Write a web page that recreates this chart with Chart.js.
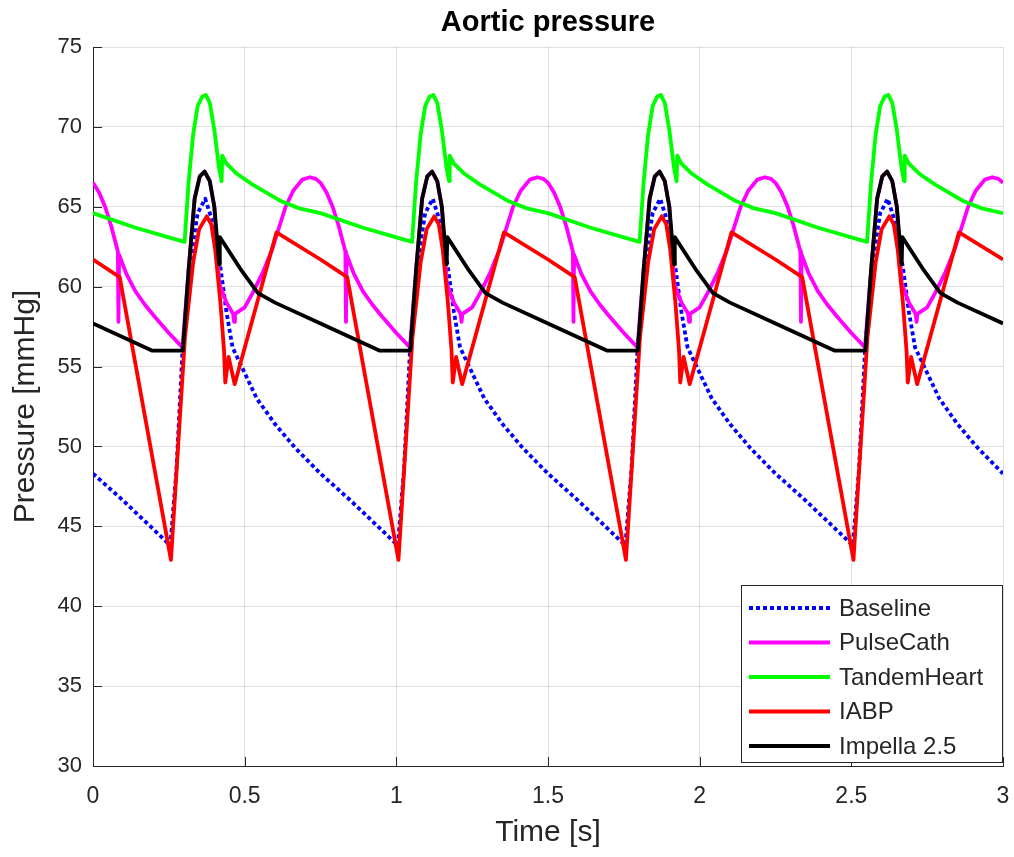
<!DOCTYPE html>
<html>
<head>
<meta charset="utf-8">
<title>Aortic pressure</title>
<script src="https://cdn.jsdelivr.net/npm/chart.js@4.4.1/dist/chart.umd.min.js"></script>
<style>
  html, body { margin: 0; padding: 0; background: #fff; }
  #wrap { width: 1014px; height: 857px; }
</style>
</head>
<body>
<div id="wrap"><canvas id="pressureChart" width="1014" height="857"></canvas></div>
<script>
'use strict';

// Series names
const seriesNames = ['Baseline', 'PulseCath', 'TandemHeart', 'IABP', 'Impella 2.5'];

// Baseline
const baselineTime = [
  0, 0.10, 0.20, 0.255, 0.275, 0.295, 0.32, 0.345, 0.37, 0.395, 0.42, 0.44, 0.46, 0.50, 0.54, 0.60, 0.667,
  0.75, 0.85, 0.95, 1.005, 1.025, 1.045, 1.07, 1.095, 1.12, 1.145, 1.17, 1.19, 1.21, 1.25, 1.29, 1.35, 1.417,
  1.5, 1.6, 1.7, 1.755, 1.775, 1.795, 1.82, 1.845, 1.87, 1.895, 1.92, 1.94, 1.96, 2.0, 2.04, 2.1, 2.167,
  2.25, 2.35, 2.45, 2.505, 2.525, 2.545, 2.57, 2.595, 2.62, 2.645, 2.67, 2.69, 2.71, 2.75, 2.79, 2.85, 2.917,
  3.0
];
const baselinePressure = [
  48.3, 46.6, 44.8, 43.8, 48.5, 56.0, 61.5, 64.6, 65.5, 64.0, 61.2, 58.4, 56.2, 54.6, 53.0, 51.4, 49.9,
  48.3, 46.6, 44.8, 43.8, 48.5, 56.0, 61.5, 64.6, 65.5, 64.0, 61.2, 58.4, 56.2, 54.6, 53.0, 51.4, 49.9,
  48.3, 46.6, 44.8, 43.8, 48.5, 56.0, 61.5, 64.6, 65.5, 64.0, 61.2, 58.4, 56.2, 54.6, 53.0, 51.4, 49.9,
  48.3, 46.6, 44.8, 43.8, 48.5, 56.0, 61.5, 64.6, 65.5, 64.0, 61.2, 58.4, 56.2, 54.6, 53.0, 51.4, 49.9,
  48.3
];

// PulseCath
const pulseCathTime = [
  0, 0.02, 0.04, 0.06, 0.082, 0.084, 0.086, 0.11, 0.14, 0.17, 0.2, 0.25, 0.295, 0.315, 0.335, 0.352, 0.368, 0.385, 0.4, 0.416, 0.44, 0.462, 0.465, 0.468, 0.5, 0.526, 0.56, 0.59, 0.61, 0.635, 0.66, 0.69, 0.715, 0.735,
  0.75, 0.77, 0.79, 0.81, 0.832, 0.834, 0.836, 0.86, 0.89, 0.92, 0.95, 1.0, 1.045, 1.065, 1.085, 1.102, 1.118, 1.135, 1.15, 1.166, 1.19, 1.212, 1.215, 1.218, 1.25, 1.276, 1.31, 1.34, 1.36, 1.385, 1.41, 1.44, 1.465, 1.485,
  1.5, 1.52, 1.54, 1.56, 1.582, 1.584, 1.586, 1.61, 1.64, 1.67, 1.7, 1.75, 1.795, 1.815, 1.835, 1.852, 1.868, 1.885, 1.9, 1.916, 1.94, 1.962, 1.965, 1.968, 2.0, 2.026, 2.06, 2.09, 2.11, 2.135, 2.16, 2.19, 2.215, 2.235,
  2.25, 2.27, 2.29, 2.31, 2.332, 2.334, 2.336, 2.36, 2.39, 2.42, 2.45, 2.5, 2.545, 2.565, 2.585, 2.602, 2.618, 2.635, 2.65, 2.666, 2.69, 2.712, 2.715, 2.718, 2.75, 2.776, 2.81, 2.84, 2.86, 2.885, 2.91, 2.94, 2.965, 2.985,
  3.0
];
const pulseCathPressure = [
  66.5, 65.9, 65.0, 63.8, 62.2, 57.8, 62.0, 60.8, 59.7, 58.9, 58.2, 57.1, 56.2, 61.0, 65.5, 66.9, 67.2, 66.6, 65.0, 60.2, 59.0, 58.3, 57.8, 58.3, 58.7, 59.6, 60.9, 62.3, 63.5, 65.0, 66.0, 66.7, 66.85, 66.75,
  66.5, 65.9, 65.0, 63.8, 62.2, 57.8, 62.0, 60.8, 59.7, 58.9, 58.2, 57.1, 56.2, 61.0, 65.5, 66.9, 67.2, 66.6, 65.0, 60.2, 59.0, 58.3, 57.8, 58.3, 58.7, 59.6, 60.9, 62.3, 63.5, 65.0, 66.0, 66.7, 66.85, 66.75,
  66.5, 65.9, 65.0, 63.8, 62.2, 57.8, 62.0, 60.8, 59.7, 58.9, 58.2, 57.1, 56.2, 61.0, 65.5, 66.9, 67.2, 66.6, 65.0, 60.2, 59.0, 58.3, 57.8, 58.3, 58.7, 59.6, 60.9, 62.3, 63.5, 65.0, 66.0, 66.7, 66.85, 66.75,
  66.5, 65.9, 65.0, 63.8, 62.2, 57.8, 62.0, 60.8, 59.7, 58.9, 58.2, 57.1, 56.2, 61.0, 65.5, 66.9, 67.2, 66.6, 65.0, 60.2, 59.0, 58.3, 57.8, 58.3, 58.7, 59.6, 60.9, 62.3, 63.5, 65.0, 66.0, 66.7, 66.85, 66.75,
  66.5
];

// TandemHeart
const tandemTime = [
  0, 0.138, 0.247, 0.302, 0.315, 0.33, 0.345, 0.36, 0.372, 0.385, 0.4, 0.415, 0.424, 0.426, 0.44, 0.472, 0.525, 0.615, 0.68,
  0.75, 0.888, 0.997, 1.052, 1.065, 1.08, 1.095, 1.11, 1.122, 1.135, 1.15, 1.165, 1.174, 1.176, 1.19, 1.222, 1.275, 1.365, 1.43,
  1.5, 1.638, 1.747, 1.802, 1.815, 1.83, 1.845, 1.86, 1.872, 1.885, 1.9, 1.915, 1.924, 1.926, 1.94, 1.972, 2.025, 2.115, 2.18,
  2.25, 2.388, 2.497, 2.552, 2.565, 2.58, 2.595, 2.61, 2.622, 2.635, 2.65, 2.665, 2.674, 2.676, 2.69, 2.722, 2.775, 2.865, 2.93,
  3.0
];
const tandemPressure = [
  64.6, 63.7, 63.1, 62.8, 66.5, 69.5, 71.3, 71.9, 72.0, 71.5, 69.8, 67.5, 66.6, 68.2, 67.7, 67.1, 66.4, 65.4, 64.9,
  64.6, 63.7, 63.1, 62.8, 66.5, 69.5, 71.3, 71.9, 72.0, 71.5, 69.8, 67.5, 66.6, 68.2, 67.7, 67.1, 66.4, 65.4, 64.9,
  64.6, 63.7, 63.1, 62.8, 66.5, 69.5, 71.3, 71.9, 72.0, 71.5, 69.8, 67.5, 66.6, 68.2, 67.7, 67.1, 66.4, 65.4, 64.9,
  64.6, 63.7, 63.1, 62.8, 66.5, 69.5, 71.3, 71.9, 72.0, 71.5, 69.8, 67.5, 66.6, 68.2, 67.7, 67.1, 66.4, 65.4, 64.9,
  64.6
];

// IABP
const iabpTime = [
  0, 0.088, 0.257, 0.303, 0.33, 0.35, 0.375, 0.39, 0.403, 0.42, 0.432, 0.436, 0.447, 0.467, 0.605,
  0.75, 0.838, 1.007, 1.053, 1.08, 1.1, 1.125, 1.14, 1.153, 1.17, 1.182, 1.186, 1.197, 1.217, 1.355,
  1.5, 1.588, 1.757, 1.803, 1.83, 1.85, 1.875, 1.89, 1.903, 1.92, 1.932, 1.936, 1.947, 1.967, 2.105,
  2.25, 2.338, 2.507, 2.553, 2.58, 2.6, 2.625, 2.64, 2.653, 2.67, 2.682, 2.686, 2.697, 2.717, 2.855,
  3.0
];
const iabpPressure = [
  61.7, 60.6, 42.9, 56.8, 61.5, 63.6, 64.4, 63.9, 62.3, 59.0, 56.0, 54.0, 55.6, 53.9, 63.4,
  61.7, 60.6, 42.9, 56.8, 61.5, 63.6, 64.4, 63.9, 62.3, 59.0, 56.0, 54.0, 55.6, 53.9, 63.4,
  61.7, 60.6, 42.9, 56.8, 61.5, 63.6, 64.4, 63.9, 62.3, 59.0, 56.0, 54.0, 55.6, 53.9, 63.4,
  61.7, 60.6, 42.9, 56.8, 61.5, 63.6, 64.4, 63.9, 62.3, 59.0, 56.0, 54.0, 55.6, 53.9, 63.4,
  61.7
];

// Impella 2.5
const impellaTime = [
  0, 0.194, 0.296, 0.315, 0.335, 0.352, 0.368, 0.385, 0.4, 0.416, 0.418, 0.49, 0.544, 0.6,
  0.75, 0.944, 1.046, 1.065, 1.085, 1.102, 1.118, 1.135, 1.15, 1.166, 1.168, 1.24, 1.294, 1.35,
  1.5, 1.694, 1.796, 1.815, 1.835, 1.852, 1.868, 1.885, 1.9, 1.916, 1.918, 1.99, 2.044, 2.1,
  2.25, 2.444, 2.546, 2.565, 2.585, 2.602, 2.618, 2.635, 2.65, 2.666, 2.668, 2.74, 2.794, 2.85,
  3.0
];
const impellaPressure = [
  57.7, 56.0, 56.0, 61.0, 65.5, 66.9, 67.2, 66.6, 65.0, 61.4, 63.1, 61.0, 59.6, 59.0,
  57.7, 56.0, 56.0, 61.0, 65.5, 66.9, 67.2, 66.6, 65.0, 61.4, 63.1, 61.0, 59.6, 59.0,
  57.7, 56.0, 56.0, 61.0, 65.5, 66.9, 67.2, 66.6, 65.0, 61.4, 63.1, 61.0, 59.6, 59.0,
  57.7, 56.0, 56.0, 61.0, 65.5, 66.9, 67.2, 66.6, 65.0, 61.4, 63.1, 61.0, 59.6, 59.0,
  57.7
];

// Axes
const xTicks = [0, 0.5, 1, 1.5, 2, 2.5, 3];
const yTicks = [30, 35, 40, 45, 50, 55, 60, 65, 70, 75];

const FONT = '"Liberation Sans", Arial, Helvetica, sans-serif';
const AXIS_COLOR = '#262626';

function toPoints(times, values){
  let points = [];
  for (let i = 0; i < times.length; i++){
    points.push({x: times[i], y: values[i]});
  }
  return points;
}

function makeSeries(label, times, values, color, order, dash){
  return {
    label: label,
    data: toPoints(times, values),
    borderColor: color,
    backgroundColor: color,
    borderWidth: 3.8,
    borderDash: dash || [],
    borderCapStyle: 'butt',
    borderJoinStyle: 'round',
    pointRadius: 0,
    tension: 0,
    fill: false,
    order: order
  };
}

// Inward tick marks on the left and bottom axes
const innerTicks = {
  id: 'innerTicks',
  afterDraw(chart){
    const ctx = chart.ctx;
    const area = chart.chartArea;
    const x = chart.scales.x;
    const y = chart.scales.y;
    ctx.save();
    ctx.strokeStyle = AXIS_COLOR;
    ctx.lineWidth = 1;
    ctx.beginPath();
    xTicks.forEach(v => {
      let px = Math.round(x.getPixelForValue(v)) + 0.5;
      ctx.moveTo(px, area.bottom);
      ctx.lineTo(px, area.bottom - 9);
    });
    yTicks.forEach(v => {
      let py = Math.round(y.getPixelForValue(v)) + 0.5;
      ctx.moveTo(area.left, py);
      ctx.lineTo(area.left + 9, py);
    });
    ctx.stroke();
    ctx.restore();
  }
};

// Title centred over the plot area
const plotTitle = {
  id: 'plotTitle',
  afterDraw(chart){
    const ctx = chart.ctx;
    const area = chart.chartArea;
    ctx.save();
    ctx.fillStyle = '#000';
    ctx.font = 'bold 29px ' + FONT;
    ctx.textAlign = 'center';
    ctx.textBaseline = 'middle';
    ctx.fillText('Aortic pressure', (area.left + area.right) / 2, 23);
    ctx.restore();
  }
};

// Boxed legend in the lower right corner
const boxLegend = {
  id: 'boxLegend',
  afterDraw(chart){
    const ctx = chart.ctx;
    const area = chart.chartArea;
    const datasets = chart.data.datasets;
    const boxW = 262;
    const boxH = 178;
    const left = area.right - boxW;
    const top = area.bottom - boxH - 3;
    ctx.save();
    ctx.fillStyle = '#fff';
    ctx.fillRect(left, top, boxW, boxH);
    ctx.strokeStyle = AXIS_COLOR;
    ctx.lineWidth = 1;
    ctx.strokeRect(left + 0.5, top + 0.5, boxW - 1, boxH - 1);
    ctx.font = '24px ' + FONT;
    ctx.textBaseline = 'middle';
    ctx.textAlign = 'left';
    datasets.forEach((ds, i) => {
      let rowY = top + 23 + i * 34.5;
      ctx.strokeStyle = ds.borderColor;
      ctx.lineWidth = ds.borderWidth;
      ctx.setLineDash(ds.borderDash);
      ctx.lineCap = 'butt';
      ctx.beginPath();
      ctx.moveTo(left + 8, rowY);
      ctx.lineTo(left + 89, rowY);
      ctx.stroke();
      ctx.setLineDash([]);
      ctx.fillStyle = AXIS_COLOR;
      ctx.fillText(ds.label, left + 98, rowY + 1);
    });
    ctx.restore();
  }
};

function fixSize(width, height){
  return scale => {
    if (width) scale.width = width;
    if (height) scale.height = height;
    scale.paddingLeft = 0;
    scale.paddingRight = 0;
    scale.paddingTop = 0;
    scale.paddingBottom = 0;
  };
}

let chartContext = document.getElementById('pressureChart');

new Chart(chartContext, { // eslint-disable-line
  type: 'line',
  data: {
    datasets: [
      makeSeries(seriesNames[0], baselineTime, baselinePressure, '#0000ff', 5, [4, 3]),
      makeSeries(seriesNames[1], pulseCathTime, pulseCathPressure, '#ff00ff', 4),
      makeSeries(seriesNames[2], tandemTime, tandemPressure, '#00ff00', 3),
      makeSeries(seriesNames[3], iabpTime, iabpPressure, '#ff0000', 2),
      makeSeries(seriesNames[4], impellaTime, impellaPressure, '#000000', 1)
    ]
  },
  options: {
    responsive: false,
    animation: false,
    events: [],
    layout: {
      padding: {top: 47, right: 11, bottom: 0, left: 0}
    },
    plugins: {
      legend: {display: false},
      tooltip: {enabled: false},
      title: {display: false}
    },
    scales: {
      x: {
        type: 'linear',
        min: 0,
        max: 3,
        afterBuildTicks: scale => { scale.ticks = xTicks.map(v => ({value: v})); },
        afterFit: fixSize(0, 91),
        ticks: {
          color: AXIS_COLOR,
          font: {family: FONT, size: 23},
          padding: 17,
          maxRotation: 0,
          callback: v => String(v)
        },
        grid: {
          color: 'rgba(38,38,38,0.15)',
          lineWidth: 1,
          drawTicks: false
        },
        border: {display: true, color: AXIS_COLOR, width: 1},
        title: {
          display: true,
          text: 'Time [s]',
          color: AXIS_COLOR,
          font: {family: FONT, size: 30},
          padding: {top: 0, bottom: 6}
        }
      },
      y: {
        min: 30,
        max: 75,
        afterBuildTicks: scale => { scale.ticks = yTicks.map(v => ({value: v})); },
        afterFit: fixSize(93, 0),
        ticks: {
          color: AXIS_COLOR,
          font: {family: FONT, size: 22},
          padding: 11,
          callback: v => String(v)
        },
        grid: {
          color: 'rgba(38,38,38,0.15)',
          lineWidth: 1,
          drawTicks: false
        },
        border: {display: true, color: AXIS_COLOR, width: 1},
        title: {
          display: true,
          text: 'Pressure [mmHg]',
          color: AXIS_COLOR,
          font: {family: FONT, size: 30},
          padding: {top: 8, bottom: 0}
        }
      }
    }
  },
  plugins: [innerTicks, plotTitle, boxLegend]
});
</script>
</body>
</html>
